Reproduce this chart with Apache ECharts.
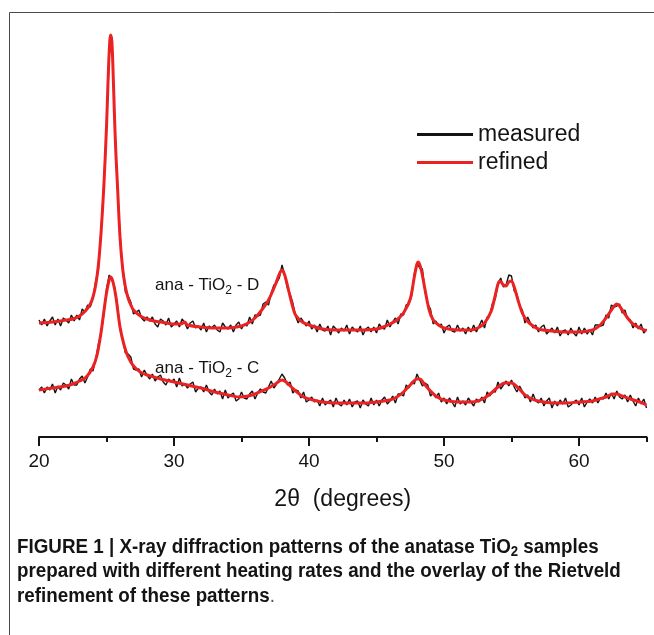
<!DOCTYPE html>
<html>
<head>
<meta charset="utf-8">
<title>XRD anatase TiO2</title>
<script src="https://cdn.jsdelivr.net/npm/echarts@6.0.0/dist/echarts.min.js"></script>
<style>
  html, body { margin: 0; padding: 0; background: #fff; }
  #chart { width: 654px; height: 635px; }
</style>
</head>
<body>
<div id="chart"></div>
<script>
// measured scans start at 20 deg with a 0.2 deg step
const scanStart = 20;
const scanStep = 0.2;

// intensities (a.u.), sample D
const measuredD = [
  117,112,118,111,116,120,112,118,111,119,117,114,122,116,122,117,128,125,132,130,
  139,156,167,207,253,308,381,400,318,252,204,167,145,141,135,123,125,127,119,116,
  120,116,120,113,110,118,116,112,119,110,113,116,110,118,114,108,114,116,109,111,
  107,114,105,111,109,112,107,105,114,110,108,112,105,112,115,108,113,111,120,113,
  122,121,122,133,135,132,144,152,154,159,172,162,149,143,134,121,114,119,115,111,
  116,108,112,105,113,107,106,111,102,111,108,104,109,106,112,103,110,107,105,111,
  102,108,110,105,110,104,113,109,108,117,110,115,119,113,123,122,132,133,141,163,
  174,169,168,145,133,128,113,116,111,113,104,110,112,106,105,112,106,109,103,110,
  105,112,105,111,117,109,120,122,134,138,153,159,150,152,162,161,146,143,131,127,
  114,120,114,109,112,105,110,112,103,106,109,104,110,101,106,107,102,109,104,101,
  110,103,109,103,107,102,112,112,111,112,122,119,132,130,131,133,124,127,118,117,
  109,114,108,113,104,108
];

// intensities (a.u.), sample C
const measuredC = [
  47,50,44,50,47,53,44,51,47,54,52,48,58,52,52,58,61,54,60,68,
  66,78,93,103,122,148,162,157,150,133,108,98,84,83,80,68,67,68,60,67,
  62,58,63,56,60,62,55,52,58,55,58,50,59,51,53,49,53,55,45,49,
  50,45,52,45,42,48,43,46,38,47,39,42,44,36,38,45,39,38,43,46,
  38,44,48,45,44,50,56,49,53,58,63,59,52,55,44,47,46,39,45,35,
  37,40,35,37,31,39,32,35,37,30,39,33,31,37,32,38,30,35,36,29,
  37,33,31,39,32,37,31,37,40,33,36,41,34,43,43,41,52,49,55,53,
  63,57,51,54,52,41,44,39,44,35,39,33,39,35,30,40,33,36,32,39,
  35,31,38,35,40,34,45,41,46,45,55,48,52,56,51,57,50,45,51,46,
  39,42,35,43,36,34,39,31,36,39,29,36,31,37,33,39,30,32,35,37,
  32,39,30,35,38,34,40,34,39,38,44,38,44,38,46,40,38,42,35,42,
  36,31,39,33,38,29
];

// Rietveld fits [2theta, intensity]
const refinedD = [
  [20.0,114],[21.0,115],[22.0,117],[22.5,118],[23.0,121],[23.5,127],[23.8,133],[24.0,140],
  [24.2,152],[24.4,172],[24.6,205],[24.8,250],[25.0,310],[25.1,350],[25.2,385],[25.3,402],
  [25.4,395],[25.5,360],[25.6,317],[25.7,282],[25.8,255],[26.0,200],[26.2,168],[26.4,150],
  [26.6,139],[26.8,132],[27.0,127],[27.5,121],[28.0,118],[28.5,116],[29.0,115],[30.0,113],
  [30.5,113],[30.8,115],[31.0,112],[32.0,110],[33.0,109],[34.0,109],[35.0,111],[35.5,114],
  [36.0,119],[36.5,127],[37.0,137],[37.5,152],[37.8,163],[38.0,167],[38.2,162],[38.5,146],
  [38.8,130],[39.0,122],[39.5,115],[40.0,112],[41.0,108],[42.0,107],[44.0,107],[45.0,108],
  [45.5,110],[46.0,113],[46.5,117],[47.0,124],[47.5,138],[47.8,160],[48.0,173],[48.1,175],
  [48.3,168],[48.6,147],[48.9,127],[49.2,117],[49.6,112],[50.0,109],[51.0,107],[52.0,107],
  [52.5,109],[53.0,114],[53.5,126],[53.8,142],[54.0,153],[54.15,156],[54.4,152],[54.6,151],
  [54.8,155],[55.0,156],[55.2,150],[55.5,136],[55.8,124],[56.1,117],[56.5,112],[57.0,108],
  [58.0,106],[59.0,105],[60.0,105],[61.0,107],[61.5,111],[62.0,119],[62.4,127],[62.8,133],
  [63.0,131],[63.3,125],[63.6,119],[64.0,113],[64.5,109],[65.0,106]
];

const refinedC = [
  [20.0,47],[21.0,49],[22.0,51],[22.5,53],[23.0,56],[23.5,60],[24.0,70],[24.3,82],
  [24.6,105],[24.8,125],[25.0,144],[25.2,157],[25.33,160],[25.5,154],[25.7,140],[26.0,110],
  [26.3,92],[26.6,80],[27.0,71],[27.5,65],[28.0,62],[28.5,60],[29.0,58],[30.0,55],
  [31.0,52],[32.0,49],[33.0,45],[34.0,42],[34.8,40],[35.5,41],[36.0,43],[36.5,46],
  [37.0,49],[37.5,53],[38.0,57],[38.3,55],[38.7,50],[39.1,45],[39.6,40],[40.3,37],
  [41.0,35],[42.0,34],[44.0,34],[45.0,35],[45.5,36],[46.0,37],[46.5,40],[47.0,45],
  [47.5,52],[48.0,58],[48.2,58],[48.6,52],[49.0,46],[49.5,40],[50.0,37],[51.0,35],
  [52.0,35],[52.5,36],[53.0,39],[53.5,44],[54.0,50],[54.5,54],[55.0,54],[55.5,49],
  [56.0,42],[56.5,38],[57.0,36],[58.0,34],[59.0,34],[60.0,35],[61.0,36],[61.5,38],
  [62.0,40],[62.5,43],[62.8,43],[63.2,41],[63.8,38],[64.5,35],[65.0,32]
];

const majorTicks = [20, 30, 40, 50, 60];
const minorTicks = [25, 35, 45, 55, 65];

const SANS = '"Liberation Sans", Arial, sans-serif';
const RED = '#ec2222';
const INK = '#141414';

const twoTheta = measuredD.map((_, i) => +(scanStart + i * scanStep).toFixed(1));
const pairUp = (xs, ys) => ys.map((y, i) => [xs[i], y]);

function sampleLabel(tag, x, y) {
    return {
        silent: true,
        symbol: 'circle',
        symbolSize: 0,
        data: [{ coord: [x, y] }],
        label: {
            show: true,
            position: 'right',
            distance: 0,
            formatter: '{a|ana - TiO}{s|2}{a| - ' + tag + '}',
            rich: {
                a: { fontSize: 17, fontFamily: SANS, color: INK, lineHeight: 24 },
                s: { fontSize: 12, fontFamily: SANS, color: INK, lineHeight: 12, verticalAlign: 'bottom' }
            }
        }
    };
}

function measuredSeries(data) {
    return {
        name: 'measured', type: 'line', data: data,
        symbol: 'none', silent: true, z: 2,
        lineStyle: { color: INK, width: 1.4 },
        itemStyle: { color: INK }
    };
}

function refinedSeries(data, mark) {
    return {
        name: 'refined', type: 'line', data: data,
        symbol: 'none', smooth: 0.3, silent: true, z: 3,
        lineStyle: { color: RED, width: 3 },
        itemStyle: { color: RED },
        markPoint: mark
    };
}

const chart = echarts.init(document.getElementById('chart'));

const option = {
    animation: false,
    backgroundColor: '#fff',
    grid: [
        { left: 39, right: 7.5, top: 27, bottom: 198 },
        { left: 39, right: 7.5, top: 27, bottom: 198 }
    ],
    legend: {
        data: ['measured', 'refined'],
        orient: 'vertical',
        left: 417,
        top: 123,
        padding: 0,
        itemGap: 5,
        itemWidth: 56,
        itemHeight: 3,
        icon: 'rect',
        selectedMode: false,
        textStyle: { fontSize: 23, fontFamily: SANS, color: INK }
    },
    xAxis: [
        {
            type: 'value', gridIndex: 0, min: 20, max: 65,
            name: '2θ  (degrees)',
            nameLocation: 'middle',
            nameGap: 51,
            nameTextStyle: { fontSize: 23, fontFamily: SANS, color: INK },
            axisLine: { show: true, lineStyle: { color: INK, width: 2 } },
            axisTick: { show: true, customValues: majorTicks, length: 9, lineStyle: { color: INK, width: 2 } },
            axisLabel: { customValues: majorTicks, fontSize: 19, fontFamily: SANS, color: INK, margin: 15 },
            splitLine: { show: false }
        },
        {
            type: 'value', gridIndex: 1, min: 20, max: 65,
            axisLine: { show: false },
            axisTick: { show: true, customValues: minorTicks, length: 5, lineStyle: { color: INK, width: 2 } },
            axisLabel: { show: false },
            splitLine: { show: false }
        }
    ],
    yAxis: [
        { type: 'value', gridIndex: 0, min: 0, max: 410, show: false },
        { type: 'value', gridIndex: 1, min: 0, max: 410, show: false }
    ],
    series: [
        measuredSeries(pairUp(twoTheta, measuredD)),
        refinedSeries(refinedD, sampleLabel('D', 28.6, 152)),
        measuredSeries(pairUp(twoTheta, measuredC)),
        refinedSeries(refinedC, sampleLabel('C', 28.6, 69))
    ],
    graphic: [
        {
            type: 'rect', silent: true, z: -1,
            shape: { x: 9.5, y: 12.5, width: 700, height: 700 },
            style: { fill: 'none', stroke: '#4a4a4a', lineWidth: 1 }
        },
        {
            // caption set in a condensed bold face
            type: 'text', silent: true,
            x: 17, y: 535, scaleX: 0.94,
            style: {
                text: '{b|FIGURE 1 | X-ray diffraction patterns of the anatase TiO}{s|2}{b| samples}\n' +
                      '{b|prepared with different heating rates and the overlay of the Rietveld}\n' +
                      '{b|refinement of these patterns}{p|.}',
                rich: {
                    b: { fontSize: 20, fontWeight: 'bold', fontFamily: SANS, fill: INK, lineHeight: 24.5 },
                    s: { fontSize: 14, fontWeight: 'bold', fontFamily: SANS, fill: INK, lineHeight: 14, verticalAlign: 'bottom' },
                    p: { fontSize: 20, fontFamily: SANS, fill: '#555', lineHeight: 24.5 }
                }
            }
        }
    ]
};

chart.setOption(option);
</script>
</body>
</html>
